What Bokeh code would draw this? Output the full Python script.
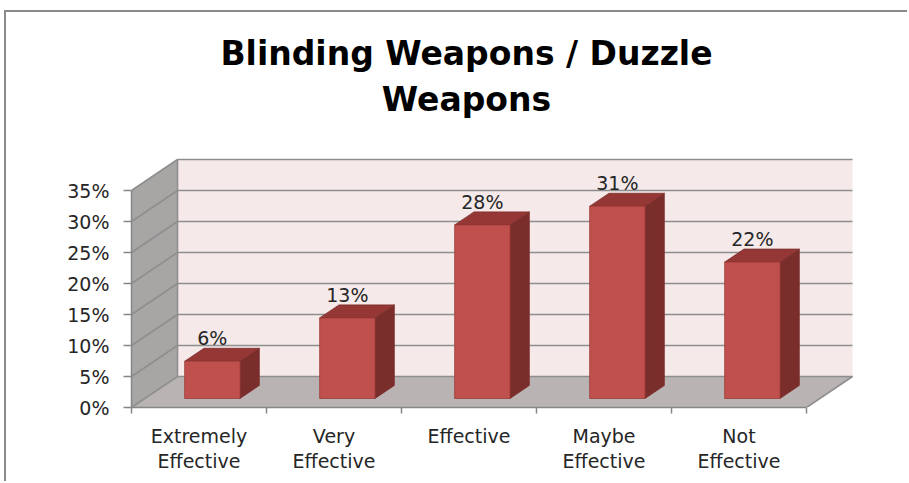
from bokeh.plotting import figure
from bokeh.models import Range1d, FixedTicker, PrintfTickFormatter, LinearAxis
from bokeh.core.properties import value
from bokeh.embed import file_html
from bokeh.resources import INLINE

# ---------------- data ----------------
categories = ["Extremely\nEffective", "Very\nEffective", "Effective", "Maybe\nEffective", "Not\nEffective"]
values = [6, 13, 28, 31, 22]
y_ticks = [0, 5, 10, 15, 20, 25, 30, 35]
title_lines = ["Blinding Weapons / Duzzle", "Weapons"]

# ---------------- layout (page pixels) ----------------
OX, OY = 6, 12            # canvas origin on the page (after css border)
W, H = 909 - OX, 483 - OY
AX_X, AX_Y = 131, 407     # front y-axis x / x-axis y on page
CAT_PX = 135.0            # px per category
PCT_PX = 6.2              # px per percent
DEPTH_PX = (46.0, 31.0)   # 3-D depth offset (right, up)
F0, F1 = 0.29, 0.71       # bar depth span (fraction of full depth)
BAR_W = 0.41              # bar width (category units)

n = len(categories)
dx = DEPTH_PX[0] / CAT_PX
dy = DEPTH_PX[1] / PCT_PX
ymax = y_ticks[-1]

left = AX_X - OX
frame_h = AX_Y - OY
bottom = H - frame_h
frame_w = W - left


def X(px):
    return (px - AX_X) / CAT_PX


def Y(py):
    return (AX_Y - py) / PCT_PX


p = figure(width=W, height=H, output_backend="svg", toolbar_location=None,
           x_range=Range1d(0, frame_w / CAT_PX), y_range=Range1d(0, frame_h / PCT_PX),
           min_border_left=left, min_border_bottom=bottom, min_border_top=0, min_border_right=0,
           x_axis_type=None, y_axis_type=None)
p.grid.visible = False
p.outline_line_color = None
p.background_fill_color = "white"
p.border_fill_color = "white"
p.margin = (10, 0, 0, 4)
p.styles = {"border-left": "2px solid #8a8a8a", "border-top": "2px solid #8a8a8a"}

GRID = "#8e8e8e"
# floor, left wall, back wall
p.patches(xs=[[0, n, n + dx, dx], [0, 0, dx, dx], [dx, n + dx, n + dx, dx]],
          ys=[[0, 0, dy, dy], [0, ymax, ymax + dy, dy], [dy, dy, ymax + dy, ymax + dy]],
          fill_color=["#bab3b3", "#a8a5a5", "#f5e9e9"], line_color=None)

# gridlines: back wall + left wall diagonals
gx, gy = [], []
for t in y_ticks:
    gx.append([dx, n + dx]); gy.append([t + dy, t + dy])
    gx.append([0, dx]); gy.append([t, t + dy])
gx.append([dx, dx]); gy.append([dy, ymax + dy])
gx.append([n, n + dx]); gy.append([0, dy])
p.multi_line(xs=gx, ys=gy, line_color=GRID, line_width=1.6)

# bars
cx = [i + 0.5 + F0 * dx for i in range(n)]
xl = [c - BAR_W / 2 for c in cx]
xr = [c + BAR_W / 2 for c in cx]
ddx = (F1 - F0) * dx
ddy = (F1 - F0) * dy
base = F0 * dy
for i, v in enumerate(values):
    top = v + base
    p.patches(xs=[[xr[i], xr[i], xr[i] + ddx, xr[i] + ddx],
                  [xl[i], xr[i], xr[i] + ddx, xl[i] + ddx]],
              ys=[[base, top, top + ddy, base + ddy],
                  [top, top, top + ddy, top + ddy]],
              fill_color=["#7a2e2c", "#943735"], line_color="#7e2f2d", line_width=0.8)
    p.quad(left=[xl[i]], right=[xr[i]], bottom=[base], top=[top],
           fill_color="#c0504d", line_color="#9c3b39", line_width=0.8)

# value labels
p.text(x=cx, y=[v + F1 * dy for v in values], text=[f"{v}%" for v in values],
       text_align="center", text_baseline="alphabetic", y_offset=-10,
       text_font=value("DejaVu Sans"), text_font_size="19px", text_color="#262626")

# title
p.text(x=[X(466)] * 2, y=[Y(53), Y(99)], text=title_lines,
       text_align="center", text_baseline="alphabetic",
       text_font=value("DejaVu Sans"), text_font_style="bold", text_font_size="33px",
       text_color="black")

# axes
AXC = "#868686"
yaxis = LinearAxis(ticker=FixedTicker(ticks=y_ticks), formatter=PrintfTickFormatter(format="%d%%"),
                   bounds=(0, ymax))
yaxis.major_tick_out = 8
yaxis.major_tick_in = 0
yaxis.minor_tick_line_color = None
yaxis.axis_line_color = AXC
yaxis.axis_line_width = 1.5
yaxis.major_tick_line_color = AXC
yaxis.major_tick_line_width = 1.5
yaxis.major_label_text_font = "DejaVu Sans"
yaxis.major_label_text_font_size = "19px"
yaxis.major_label_text_color = "#262626"
yaxis.major_label_standoff = 14
p.add_layout(yaxis, "left")

xaxis = LinearAxis(ticker=FixedTicker(ticks=[i + 0.5 for i in range(n)], minor_ticks=list(range(n + 1))),
                   bounds=(0, n),
                   major_label_overrides={i + 0.5: c for i, c in enumerate(categories)})
xaxis.major_tick_line_color = None
xaxis.major_tick_out = 0
xaxis.major_tick_in = 0
xaxis.minor_tick_out = 6
xaxis.minor_tick_in = 0
xaxis.minor_tick_line_color = AXC
xaxis.minor_tick_line_width = 1.5
xaxis.axis_line_color = AXC
xaxis.axis_line_width = 1.5
xaxis.major_label_text_font = "DejaVu Sans"
xaxis.major_label_text_font_size = "19px"
xaxis.major_label_text_color = "#262626"
xaxis.major_label_text_line_height = 1.15
xaxis.major_label_standoff = 11
p.add_layout(xaxis, "below")

open("out.html", "w").write(file_html(p, INLINE))
